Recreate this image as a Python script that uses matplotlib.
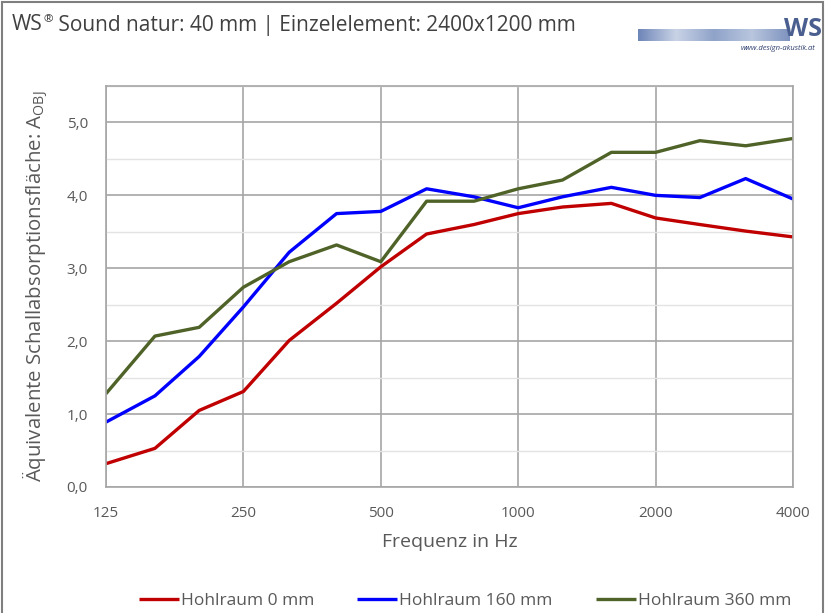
import numpy as np
import matplotlib
matplotlib.use("Agg")
import matplotlib.pyplot as plt
from matplotlib.patches import Rectangle
from matplotlib.ticker import FixedLocator, MultipleLocator
from matplotlib.colors import LinearSegmentedColormap

plt.rcParams['font.family'] = ['Open Sans', 'DejaVu Sans']
plt.rcParams['mathtext.fontset'] = 'custom'
plt.rcParams['mathtext.rm'] = 'Open Sans'

# Third-octave band centre frequencies (Hz)
freqs = [125, 160, 200, 250, 315, 400, 500, 630, 800, 1000, 1250, 1600, 2000, 2500, 3150, 4000]
tick_freqs = [125, 250, 500, 1000, 2000, 4000]
y_ticks = [0.0, 1.0, 2.0, 3.0, 4.0, 5.0]

# Equivalent absorption area A_obj per element
hohlraum_0 = [0.32, 0.53, 1.05, 1.31, 2.01, 2.52, 3.02, 3.47, 3.60, 3.75, 3.84, 3.89, 3.69, 3.60, 3.51, 3.43]
hohlraum_160 = [0.89, 1.25, 1.79, 2.47, 3.22, 3.75, 3.78, 4.09, 3.98, 3.83, 3.98, 4.11, 4.00, 3.97, 4.23, 3.95]
hohlraum_360 = [1.28, 2.07, 2.19, 2.74, 3.09, 3.32, 3.09, 3.92, 3.92, 4.09, 4.21, 4.59, 4.59, 4.75, 4.68, 4.78]

series = [
    ("Hohlraum 0 mm", hohlraum_0, "#C00000"),
    ("Hohlraum 160 mm", hohlraum_160, "#0000FF"),
    ("Hohlraum 360 mm", hohlraum_360, "#4F6228"),
]

W, H = 831, 613
fig = plt.figure(figsize=(W / 100, H / 100), dpi=100)
fig.patch.set_facecolor("white")
renderer = fig.canvas.get_renderer()

# outer frame
fig.add_artist(Rectangle((2 / W, -0.01), (823 - 2) / W, (H - 2) / H + 0.01,
                         transform=fig.transFigure, fill=False,
                         edgecolor="#7F7F7F", linewidth=1.5))

left, right, top, bottom = 106, 793, 86, 487
ax = fig.add_axes([left / W, 1 - bottom / H, (right - left) / W, (bottom - top) / H])

x = np.log2(np.array(freqs, dtype=float))
for name, vals, col in series:
    ax.plot(x, vals, color=col, linewidth=2.4, label=name, solid_capstyle="butt")

ax.set_xlim(np.log2(125), np.log2(4000))
ax.set_ylim(0, 5.5)
ax.xaxis.set_major_locator(FixedLocator(np.log2(tick_freqs)))
ax.set_xticklabels([str(f) for f in tick_freqs])
ax.yaxis.set_major_locator(FixedLocator(y_ticks))
ax.set_yticklabels([f"{v:.1f}".replace(".", ",") for v in y_ticks])
ax.yaxis.set_minor_locator(MultipleLocator(0.5))

ax.grid(True, which="major", color="#A6A6A6", linewidth=1.2)
ax.grid(True, which="minor", axis="y", color="#E3E3E3", linewidth=1.0)
ax.set_axisbelow(True)
for s in ax.spines.values():
    s.set_color("#A6A6A6")
    s.set_linewidth(1.2)
ax.tick_params(which="both", length=0, colors="#595959", labelsize=11)
ax.tick_params(axis="y", pad=13)
ax.tick_params(axis="x", pad=14)

ax.set_xlabel("Frequenz in Hz", fontsize=14, color="#595959", labelpad=8)
ax.set_ylabel("Äquivalente Schallabsorptionsfläche: A$_{\\mathregular{OBJ}}$",
              fontsize=14.7, color="#595959", labelpad=13)

# title, with a small raised registered sign after "WS"
title_size = 15
ty = 1 - 25 / H
t1 = fig.text(12 / W, ty, "WS", fontsize=title_size, color="#404040", va="center", ha="left")
bb = t1.get_window_extent(renderer)
t2 = fig.text(bb.x1 / W + 0.5 / W, ty + 5 / H, "®", fontsize=title_size * 0.55,
              color="#404040", va="center", ha="left")
bb2 = t2.get_window_extent(renderer)
fig.text(bb2.x1 / W, ty, " Sound natur: 40 mm | Einzelelement: 2400x1200 mm",
         fontsize=title_size, color="#404040", va="center", ha="left")

# logo: gradient stripe, letters and web address
grad = np.linspace(0, 1, 256).reshape(1, -1)
lax = fig.add_axes([638 / W, 1 - 41 / H, (790 - 638) / W, 12 / H])
lax.imshow(grad, aspect="auto", cmap=LinearSegmentedColormap.from_list(
    "logo", ["#6E85B8", "#C9D3E6", "#8FA3C9", "#B9C6DE", "#7D92BE"]))
lax.axis("off")
fig.text(803 / W, 1 - 30 / H, "WS", fontsize=18, color="#4A5F8F", ha="center",
         va="center", fontweight="bold")
fig.text(815 / W, 1 - 49 / H, "www.design-akustik.at", fontsize=5.5, color="#2F3F6F",
         ha="right", va="center", style="italic")

handles, labels = ax.get_legend_handles_labels()
fig.legend(handles, labels, loc="center", bbox_to_anchor=(465 / W, 1 - 601 / H),
           ncol=3, frameon=False, fontsize=12.5, handlelength=2.3, handletextpad=0.1,
           columnspacing=2.5, labelcolor="#595959")

fig.savefig("out.png", dpi=100, facecolor="white")
